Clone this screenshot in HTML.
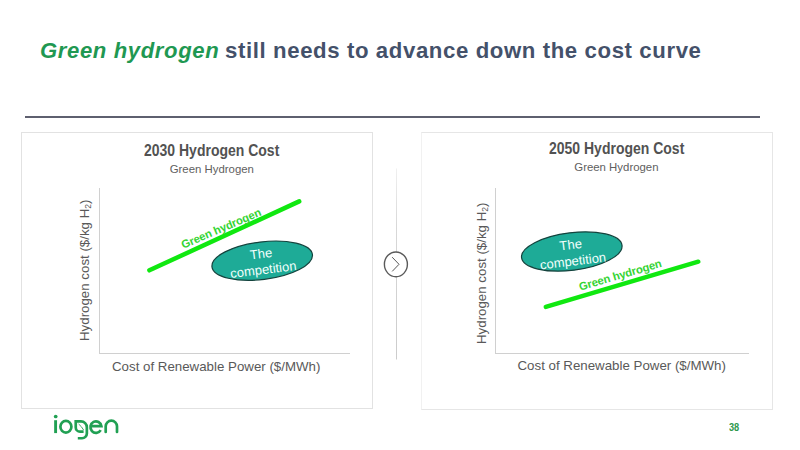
<!DOCTYPE html>
<html><head><meta charset="utf-8">
<style>
*{margin:0;padding:0;box-sizing:border-box}
html,body{width:800px;height:450px;background:#fff;overflow:hidden}
body{position:relative;font-family:"Liberation Sans",sans-serif}
.abs{position:absolute;white-space:nowrap}
#title{left:40px;top:37px;font-size:22.2px;font-weight:bold;color:#44516a;line-height:28px;letter-spacing:0.6px}
#title i{color:#1f9852;font-size:22.1px;letter-spacing:0.62px;margin-right:-1px}
#rule{left:25px;top:116px;width:735px;height:2px;background:#5e606f}
.panel{position:absolute;top:132px;height:277px;border:1px solid #e2e2e2;background:#fff}
.ct{font-size:15.7px;font-weight:bold;color:#525252;line-height:16px;transform-origin:0 0;transform:scaleX(0.892)}
.cs{font-size:11.4px;color:#606060;line-height:13px}
.xl{font-size:13.3px;color:#595959;line-height:15px}
.yl{font-size:13.3px;color:#595959;line-height:15px;transform-origin:0 0;transform:rotate(-90deg)}
.yl sub{font-size:8.5px;vertical-align:-2px;line-height:0}
.ax{position:absolute;background:#d0d0d0}
</style></head><body>
<div id="title" class="abs"><i>Green hydrogen</i> still needs to advance down the cost curve</div>
<div id="rule" class="abs"></div>

<div class="panel" style="left:21px;width:352px;height:277px"></div>
<div class="panel" style="left:421px;width:352px;height:278px;border-color:#e6e6e6;border-left-color:#f1f1f1"></div>

<!-- left chart -->
<div class="abs ct" style="left:144px;top:142.6px">2030 Hydrogen Cost</div>
<div class="abs cs" style="left:169.7px;top:163px">Green Hydrogen</div>
<div class="ax" style="left:99px;top:188px;width:1px;height:166px"></div>
<div class="ax" style="left:99px;top:353px;width:251px;height:1px"></div>
<div class="abs xl" style="left:112px;top:359px">Cost of Renewable Power ($/MWh)</div>
<div class="abs yl" style="left:77px;top:341px">Hydrogen cost ($/kg H<sub>2</sub>)</div>

<!-- right chart -->
<div class="abs ct" style="left:549.2px;top:141.4px">2050 Hydrogen Cost</div>
<div class="abs cs" style="left:574.3px;top:161px">Green Hydrogen</div>
<div class="ax" style="left:495px;top:188px;width:1px;height:166px"></div>
<div class="ax" style="left:495px;top:353px;width:254px;height:1px"></div>
<div class="abs xl" style="left:517.5px;top:358px">Cost of Renewable Power ($/MWh)</div>
<div class="abs yl" style="left:473.5px;top:344px">Hydrogen cost ($/kg H<sub>2</sub>)</div>

<svg class="abs" style="left:0;top:0" width="800" height="450" viewBox="0 0 800 450">
  <!-- left green line -->
  <line x1="149.4" y1="270.3" x2="299.2" y2="201.4" stroke="#10e810" stroke-width="4.5" stroke-linecap="round"/>
  <!-- right green line -->
  <line x1="545.8" y1="306.9" x2="698.3" y2="261.7" stroke="#10e810" stroke-width="4.5" stroke-linecap="round"/>
  <!-- ellipses -->
  <ellipse cx="262.2" cy="260.7" rx="50.6" ry="18.8" transform="rotate(-7 262.2 260.7)" fill="#1eab97" stroke="#14433d" stroke-width="1.2"/>
  <ellipse cx="571.8" cy="251.5" rx="50.6" ry="18.8" transform="rotate(-7 571.8 251.5)" fill="#1eab97" stroke="#14433d" stroke-width="1.2"/>
  <g font-family="Liberation Sans" font-size="13" fill="#f2fffc" text-anchor="middle">
    <text transform="translate(262.2 260.7) rotate(-7)"><tspan x="-0.3" y="-2.6">The</tspan><tspan x="0" y="13.4">competition</tspan></text>
    <text transform="translate(571.8 251.5) rotate(-7)"><tspan x="-0.3" y="-2.4">The</tspan><tspan x="0" y="14.1">competition</tspan></text>
  </g>
  <g font-family="Liberation Sans" font-size="11.25" font-weight="bold" fill="#33d433" letter-spacing="-0.1">
    <text transform="translate(183.3 248.8) rotate(-23.2)">Green hydrogen</text>
    <text transform="translate(580.3 290.7) rotate(-16.3)">Green hydrogen</text>
  </g>
  <!-- divider -->
  <defs><linearGradient id="dg" x1="0" y1="168" x2="0" y2="360" gradientUnits="userSpaceOnUse"><stop offset="0" stop-color="#f0f0f0"/><stop offset="0.3" stop-color="#d8d8d8"/><stop offset="1" stop-color="#cccccc"/></linearGradient></defs>
  <rect x="396" y="168.5" width="1" height="191" fill="url(#dg)"/>
  <ellipse cx="395.9" cy="264.35" rx="11.5" ry="12.4" fill="#fff" stroke="#5a5a5a" stroke-width="1.4"/>
  <polyline points="392.2,257.2 399,264.3 392.2,271.4" fill="none" stroke="#595959" stroke-width="1"/>
</svg>

<!-- logo -->
<svg class="abs" style="left:0;top:400px" width="140" height="50" viewBox="0 400 140 50">
  <g fill="none" stroke="#21a053" stroke-width="2.7">
    <line x1="55.6" y1="420.2" x2="55.6" y2="433.1" stroke-width="2.9"/>
    <ellipse cx="65.9" cy="426.7" rx="5.5" ry="5.85"/>
    <path d="M83.6 431.7 L80 431.7 A4.3 4.3 0 0 1 75.75 427.4 L75.75 421.45 L81 421.45 A5.85 5.85 0 0 1 86.85 427.3 L86.85 433.5 A4.8 4.75 0 0 1 82 438.25 L77.8 438.25"/>
    <path d="M90.4 426.2 L101.4 426.2 A5.5 5.8 0 1 0 100.7 430.1"/>
    <path d="M105.7 432 L105.7 426.35 A5.65 5.65 0 0 1 117 426.35 L117 432" stroke-linecap="round"/>
  </g>
  <circle cx="55.7" cy="416.5" r="1.85" fill="#21a053"/>
  <path d="M78.6 424 Q81.5 426.3 83.6 430" fill="none" stroke="#21a053" stroke-width="0.9"/>
</svg>

<div class="abs" style="left:729px;top:423.3px;font-size:10px;font-weight:bold;color:#2c984c;line-height:10px;transform:scaleX(0.92);transform-origin:0 0">38</div>
</body></html>
